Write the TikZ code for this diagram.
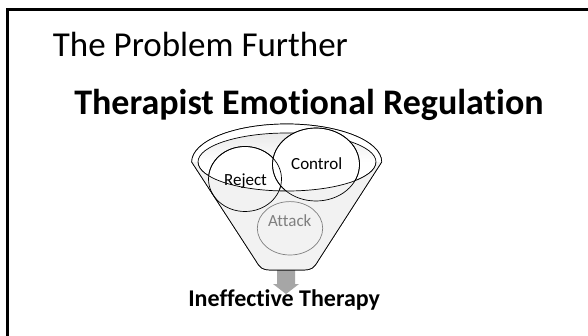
\documentclass[tikz,border=0pt]{standalone}
\usepackage{fontspec}
\setmainfont{Carlito}[Ligatures=NoCommon]
\definecolor{funnelgray}{HTML}{F2F2F2}
\definecolor{arrowgray}{HTML}{A6A6A6}
\definecolor{attackgray}{HTML}{7F7F7F}
\tikzset{
  outline/.style={draw=black, line width=0.7pt},
  labeltext/.style={anchor=base, inner sep=0pt, font=\fontsize{17}{19}\selectfont},
}
\begin{document}
\begin{tikzpicture}[x=1pt,y=1pt]
\useasboundingbox (0,0) rectangle (588,-336);
\fill[white] (0,0) rectangle (588,-336);
% frame
\draw[line width=3pt] (7.5,-340) -- (7.5,-9.3) -- (592,-9.3);
% titles
\node[anchor=base west, inner sep=0pt, font=\fontsize{35}{40}\selectfont] (title) at (52.7,-56.7) {The Problem Further};
\node[anchor=base, inner sep=0pt, font=\bfseries\fontsize{36}{40}\selectfont] (head) at (308.9,-115) {Therapist Emotional Regulation};
% arrow
\fill[arrowgray] (277,-268) -- (295,-268) -- (295,-284) -- (299,-284) -- (286,-294) -- (273,-284) -- (277,-284) -- cycle;
% funnel body
\path[fill=funnelgray, outline] (191.7,-162) -- (256,-261) .. controls (260,-268) and (263,-270) .. (270,-270) -- (304,-270) .. controls (311,-270) and (314,-268) .. (318,-261) -- (381.7,-162) arc[start angle=0, end angle=180, x radius=95, y radius=38] -- cycle;
% white rim (upper half)
\path[fill=white, outline] (381.7,-162) arc[start angle=0, end angle=180, x radius=95, y radius=38];
% inner ellipse
\path[top color=funnelgray!80!gray!60, bottom color=white, middle color=white, outline] (287,-162) ellipse [x radius=89, y radius=29];
% circles (upper, white)
\path[fill=white, outline] (245,-179) ellipse [x radius=36.5, y radius=32.5];
\path[fill=white, outline] (316,-164.5) ellipse [x radius=43.5, y radius=36.5];
% front part of funnel
\fill[funnelgray] (191.7,-162) -- (256,-261) .. controls (260,-268) and (263,-270) .. (270,-270) -- (304,-270) .. controls (311,-270) and (314,-268) .. (318,-261) -- (381.7,-162) -- (376,-162) arc[start angle=0, end angle=-180, x radius=89, y radius=29] -- cycle;
\draw[outline] (245,-179) ellipse [x radius=36.5, y radius=32.5];
\draw[outline] (316,-164.5) ellipse [x radius=43.5, y radius=36.5];
\draw[outline] (191.7,-162) -- (256,-261) .. controls (260,-268) and (263,-270) .. (270,-270) -- (304,-270) .. controls (311,-270) and (314,-268) .. (318,-261) -- (381.7,-162);
\draw[outline] (376,-162) arc[start angle=0, end angle=-180, x radius=89, y radius=29];
% attack circle
\draw[draw=attackgray, line width=0.7pt] (290,-228.3) ellipse [x radius=32.7, y radius=26.7];
% labels
\node[labeltext] (reject) at (245.5,-185.5) {Reject};
\node[labeltext] (control) at (316.7,-170) {Control};
\node[labeltext, text=attackgray] (attack) at (289.7,-226.7) {Attack};
\node[anchor=base, inner sep=0pt, font=\bfseries\fontsize{24}{28}\selectfont] (result) at (284.2,-306.7) {Ineffective Therapy};
\end{tikzpicture}
\end{document}
